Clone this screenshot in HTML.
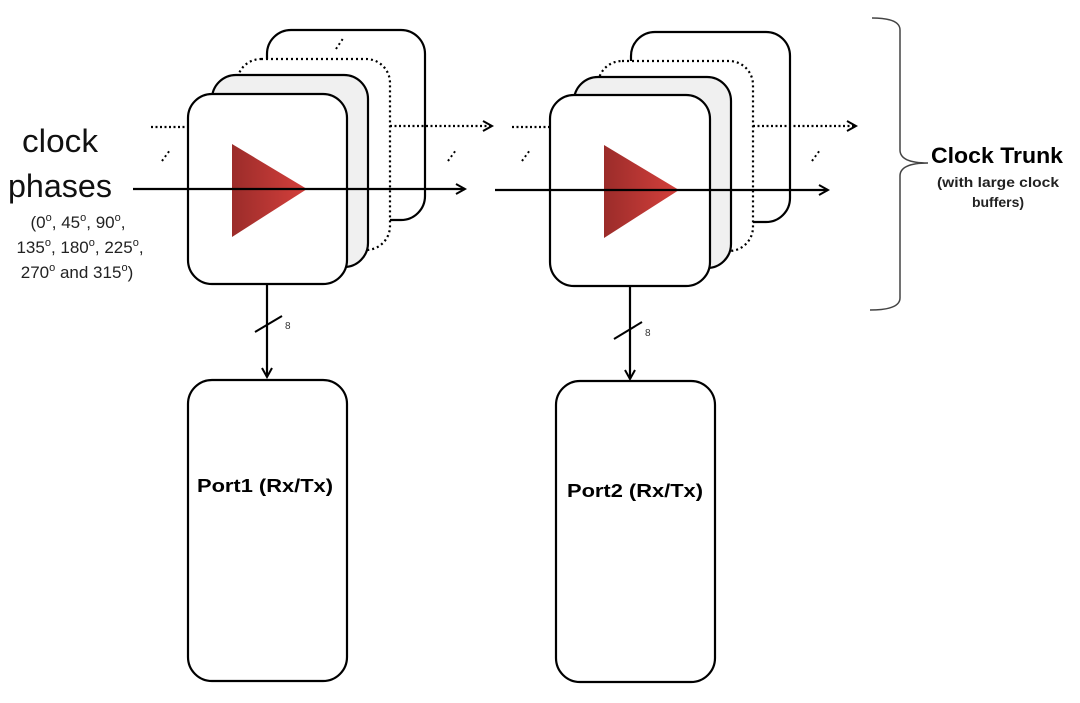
<!DOCTYPE html>
<html><head><meta charset="utf-8"><style>
html,body{margin:0;padding:0;background:#fff;}
svg{display:block;font-family:"Liberation Sans",sans-serif;}
</style></head><body>
<svg width="1080" height="703" viewBox="0 0 1080 703" xmlns="http://www.w3.org/2000/svg">
<defs>
<linearGradient id="tri" x1="0" x2="1" y1="0" y2="0">
<stop offset="0" stop-color="#9b2c2a"/><stop offset="1" stop-color="#d5403c"/>
</linearGradient>
<marker id="ah" markerWidth="12" markerHeight="12" refX="10" refY="6" orient="auto" markerUnits="userSpaceOnUse">
<path d="M1,1 L10,6 L1,11" fill="none" stroke="#000" stroke-width="2"/>
</marker>
</defs>

<g id="b1">
<rect x="267" y="30" width="158" height="190" rx="24" fill="#fff" stroke="#000" stroke-width="2.2"/>
<rect x="237" y="59" width="153" height="191" rx="24" fill="#fff" stroke="#000" stroke-width="2.2" stroke-dasharray="2,3"/>
<rect x="212" y="75" width="156" height="192" rx="24" fill="#f0f0f0" stroke="#000" stroke-width="2.2"/>
<rect x="188" y="94" width="159" height="190" rx="24" fill="#fff" stroke="#000" stroke-width="2.2"/>
<polygon points="232,144 307,189 232,237" fill="url(#tri)"/>
<line x1="133" y1="189" x2="465" y2="189" stroke="#000" stroke-width="2.2" marker-end="url(#ah)"/>
<line x1="151" y1="127" x2="188" y2="127" stroke="#000" stroke-width="2.2" stroke-dasharray="2,2.5"/>
<line x1="390" y1="126" x2="492" y2="126" stroke="#000" stroke-width="2.2" stroke-dasharray="2,2.5" marker-end="url(#ah)"/>
<line x1="267" y1="284" x2="267" y2="377" stroke="#000" stroke-width="2.2" marker-end="url(#ah)"/>
<line x1="255" y1="332" x2="282" y2="316" stroke="#000" stroke-width="2"/>
<text x="285" y="329" font-size="10" fill="#333">8</text>
<rect x="188" y="380" width="159" height="301" rx="24" fill="#fff" stroke="#000" stroke-width="2.2"/>
<text x="265" y="492" font-size="18.5" font-weight="bold" text-anchor="middle" textLength="136" lengthAdjust="spacingAndGlyphs">Port1 (Rx/Tx)</text>
</g>

<g stroke="#000" stroke-width="2" stroke-dasharray="2,3">
<line x1="162" y1="161" x2="170" y2="150"/>
<line x1="336" y1="49" x2="344" y2="37"/>
<line x1="448" y1="161" x2="456" y2="150"/>
<line x1="522" y1="161" x2="530" y2="150"/>
<line x1="698" y1="49" x2="706" y2="37"/>
<line x1="812" y1="161" x2="820" y2="150"/>
</g>

<g id="b2">
<rect x="631" y="32" width="159" height="190" rx="24" fill="#fff" stroke="#000" stroke-width="2.2"/>
<rect x="598" y="61" width="155" height="190" rx="24" fill="#fff" stroke="#000" stroke-width="2.2" stroke-dasharray="2,3"/>
<rect x="574" y="77" width="157" height="191" rx="24" fill="#f0f0f0" stroke="#000" stroke-width="2.2"/>
<rect x="550" y="95" width="160" height="191" rx="24" fill="#fff" stroke="#000" stroke-width="2.2"/>
<polygon points="604,145 679,190 604,238" fill="url(#tri)"/>
<line x1="495" y1="190" x2="828" y2="190" stroke="#000" stroke-width="2.2" marker-end="url(#ah)"/>
<line x1="512" y1="127" x2="550" y2="127" stroke="#000" stroke-width="2.2" stroke-dasharray="2,2.5"/>
<line x1="753" y1="126" x2="856" y2="126" stroke="#000" stroke-width="2.2" stroke-dasharray="2,2.5" marker-end="url(#ah)"/>
<line x1="630" y1="286" x2="630" y2="379" stroke="#000" stroke-width="2.2" marker-end="url(#ah)"/>
<line x1="614" y1="339" x2="642" y2="322" stroke="#000" stroke-width="2"/>
<text x="645" y="336" font-size="10" fill="#333">8</text>
<rect x="556" y="381" width="159" height="301" rx="24" fill="#fff" stroke="#000" stroke-width="2.2"/>
<text x="635" y="497" font-size="18.5" font-weight="bold" text-anchor="middle" textLength="136" lengthAdjust="spacingAndGlyphs">Port2 (Rx/Tx)</text>
</g>

<path d="M872,18 Q900,18 900,30 L900,150 Q900,163 928,163 Q900,163 900,176 L900,298 Q900,310 870,310" fill="none" stroke="#444" stroke-width="1.5"/>
<text x="997" y="163" font-size="22" font-weight="bold" text-anchor="middle" textLength="132" lengthAdjust="spacingAndGlyphs">Clock Trunk</text>
<text x="998" y="187" font-size="14" font-weight="bold" text-anchor="middle" fill="#222" textLength="122" lengthAdjust="spacingAndGlyphs">(with large clock</text>
<text x="998" y="207" font-size="14" font-weight="bold" text-anchor="middle" fill="#222">buffers)</text>

<text x="60" y="152" font-size="32" text-anchor="middle" fill="#111" textLength="76" lengthAdjust="spacingAndGlyphs">clock</text>
<text x="60" y="197" font-size="32" text-anchor="middle" fill="#111" textLength="104" lengthAdjust="spacingAndGlyphs">phases</text>
<text x="78" y="228" font-size="17" text-anchor="middle" fill="#222">(0<tspan dy="-7" font-size="11">o</tspan><tspan dy="7">, 45</tspan><tspan dy="-7" font-size="11">o</tspan><tspan dy="7">, 90</tspan><tspan dy="-7" font-size="11">o</tspan><tspan dy="7">,</tspan></text>
<text x="80" y="253" font-size="17" text-anchor="middle" fill="#222">135<tspan dy="-7" font-size="11">o</tspan><tspan dy="7">, 180</tspan><tspan dy="-7" font-size="11">o</tspan><tspan dy="7">, 225</tspan><tspan dy="-7" font-size="11">o</tspan><tspan dy="7">,</tspan></text>
<text x="77" y="278" font-size="17" text-anchor="middle" fill="#222">270<tspan dy="-7" font-size="11">o</tspan><tspan dy="7"> and 315</tspan><tspan dy="-7" font-size="11">o</tspan><tspan dy="7">)</tspan></text>
</svg>
</body></html>
